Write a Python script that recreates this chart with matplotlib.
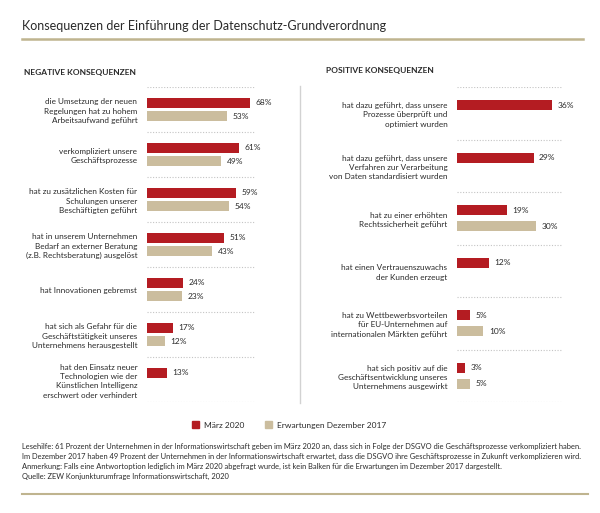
import matplotlib
matplotlib.use('Agg')
import matplotlib.pyplot as plt
from matplotlib.patches import Patch
from matplotlib.lines import Line2D

plt.rcParams['font.family'] = ['Lato', 'DejaVu Sans']

W, H = 600, 513
RED = '#b41c22'
TAN = '#cbbd9e'
LINE_TAN = '#bfb48f'
TXT = '#2a2a2a'

title = 'Konsequenzen der Einführung der Datenschutz-Grundverordnung'

neg_labels = [
    'die Umsetzung der neuen\nRegelungen hat zu hohem\nArbeitsaufwand geführt',
    'verkompliziert unsere\nGeschäftsprozesse',
    'hat zu zusätzlichen Kosten für\nSchulungen unserer\nBeschäftigten geführt',
    'hat in unserem Unternehmen\nBedarf an externer Beratung\n(z.B. Rechtsberatung) ausgelöst',
    'hat Innovationen gebremst',
    'hat sich als Gefahr für die\nGeschäftstätigkeit unseres\nUnternehmens herausgestellt',
    'hat den Einsatz neuer\nTechnologien wie der\nKünstlichen Intelligenz\nerschwert oder verhindert',
]
neg_2020 = [68, 61, 59, 51, 24, 17, 13]
neg_2017 = [53, 49, 54, 43, 23, 12, None]

pos_labels = [
    'hat dazu geführt, dass unsere\nProzesse überprüft und\noptimiert wurden',
    'hat dazu geführt, dass unsere\nVerfahren zur Verarbeitung\nvon Daten standardisiert wurden',
    'hat zu einer erhöhten\nRechtssicherheit geführt',
    'hat einen Vertrauenszuwachs\nder Kunden erzeugt',
    'hat zu Wettbewerbsvorteilen\nfür EU-Unternehmen auf\ninternationalen Märkten geführt',
    'hat sich positiv auf die\nGeschäftsentwicklung unseres\nUnternehmens ausgewirkt',
]
pos_2020 = [36, 29, 19, 12, 5, 3]
pos_2017 = [None, None, 30, None, 10, 5]

series_names = ['März 2020', 'Erwartungen Dezember 2017']

notes = [
    'Lesehilfe: 61 Prozent der Unternehmen in der Informationswirtschaft geben im März 2020 an, '
    'dass sich in Folge der DSGVO die Geschäftsprozesse verkompliziert haben.',
    'Im Dezember 2017 haben 49 Prozent der Unternehmen in der Informationswirtschaft erwartet, '
    'dass die DSGVO ihre Geschäftsprozesse in Zukunft verkomplizieren wird.',
    'Anmerkung: Falls eine Antwortoption lediglich im März 2020 abgefragt wurde, '
    'ist kein Balken für die Erwartungen im Dezember 2017 dargestellt.',
    'Quelle: ZEW Konjunkturumfrage Informationswirtschaft, 2020',
]


def fx(x):
    return x / W


def fy(y):
    return 1 - y / H


def panel(fig, left, right, top, bottom, xmax, labels, v_new, v_old, off, bh):
    ax = fig.add_axes([fx(left), fy(bottom), fx(right - left), (bottom - top) / H])
    n = len(labels)
    ax.set_xlim(0, xmax)
    ax.set_ylim(n, 0)
    for i in range(n):
        c = i + 0.5
        ax.barh(c - off, v_new[i], height=bh, color=RED)
        ax.annotate(f'{v_new[i]}%', (v_new[i], c - off), xytext=(4, 0),
                    textcoords='offset points', va='center', fontsize=6, color=TXT)
        if v_old[i] is not None:
            ax.barh(c + off, v_old[i], height=bh, color=TAN)
            ax.annotate(f'{v_old[i]}%', (v_old[i], c + off), xytext=(4, 0),
                        textcoords='offset points', va='center', fontsize=6, color=TXT)
    for k in range(n + 1):
        ax.axhline(k, color='#c4c4c4', lw=0.8, ls=(0, (1, 1.5)))
    ax.set_yticks([i + 0.5 for i in range(n)])
    ax.set_yticklabels(labels, fontsize=5.9, color=TXT, ha='right', linespacing=1.4)
    ax.tick_params(axis='y', length=0, pad=7)
    ax.set_xticks([])
    for s in ax.spines.values():
        s.set_visible(False)
    return ax


fig = plt.figure(figsize=(W / 100, H / 100), dpi=100)

fig.text(fx(22), fy(26), title, fontsize=9, color=TXT, va='center', ha='left')
fig.add_artist(Line2D([fx(22), fx(583)], [fy(39), fy(39)], color=LINE_TAN, lw=1.8))

fig.text(fx(24), fy(72), 'NEGATIVE KONSEQUENZEN', fontsize=6, fontweight='bold',
         color=TXT, va='center')
fig.text(fx(326), fy(71), 'POSITIVE KONSEQUENZEN', fontsize=6, fontweight='bold',
         color=TXT, va='center')

panel(fig, 147, 255, 87, 402, 108 / 1.515, neg_labels, neg_2020, neg_2017, 0.15, 0.22)
panel(fig, 457, 563, 87, 402, 106 / 2.64, pos_labels, pos_2020, pos_2017, 0.15, 0.19)

fig.add_artist(Line2D([fx(300), fx(300)], [fy(86), fy(403)], color='#d2d2d2', lw=1))

handles = [Patch(color=RED), Patch(color=TAN)]
fig.legend(handles, series_names, loc='center', bbox_to_anchor=(fx(289), fy(425)),
           ncol=2, frameon=False, fontsize=6, handlelength=0.8, handleheight=0.8,
           columnspacing=2.5, handletextpad=0.6, labelcolor=TXT)

for i, t in enumerate(notes):
    fig.text(fx(22), fy(446 + i * 10), t, fontsize=5.4, color=TXT, va='center')

fig.add_artist(Line2D([fx(22), fx(588)], [fy(494), fy(494)], color=LINE_TAN, lw=1.5))

fig.savefig('out.png', dpi=100)
